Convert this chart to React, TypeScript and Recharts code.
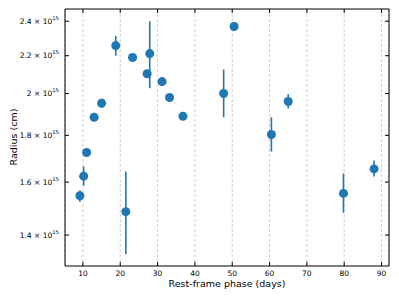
import React from 'react';
import {
  ScatterChart,
  Scatter,
  XAxis,
  YAxis,
  ZAxis,
  CartesianGrid,
  ErrorBar,
  Label,
} from 'recharts';

// rest-frame phase in days
const phase = [9.2, 10.2, 11.0, 13.0, 15.0, 18.8, 21.5, 23.3, 27.2, 27.9, 31.2, 33.2, 36.8, 47.7, 50.5, 60.5, 65.0, 79.8, 88.0];
// radius, in units of 1e15 cm
const radius = [1.546, 1.624, 1.724, 1.884, 1.952, 2.257, 1.485, 2.19, 2.102, 2.212, 2.061, 1.98, 1.889, 2.0, 2.368, 1.804, 1.96, 1.555, 1.654];
const errLow = [0.023, 0.038, 0.015, 0.012, 0.021, 0.057, 0.15, 0, 0, 0.185, 0, 0, 0, 0.116, 0.008, 0.076, 0.034, 0.074, 0.031];
const errHigh = [0.02, 0.04, 0.015, 0.012, 0.022, 0.055, 0.158, 0, 0, 0.188, 0, 0, 0, 0.125, 0.008, 0.08, 0.037, 0.08, 0.035];

const xTicks = [10, 20, 30, 40, 50, 60, 70, 80, 90];
const yTicks = [1.4, 1.6, 1.8, 2.0, 2.2, 2.4];

const E = 1e15;
const data = phase.map((t, i) => ({
  t,
  r: radius[i] * E,
  err: [errLow[i] * E, errHigh[i] * E],
}));

const FONT = '"DejaVu Sans", sans-serif';
const BLUE = '#1f77b4';
const TICK = 4;
const X_DOMAIN = [5.2, 92];
const Y_DOMAIN = [1.295e15, 2.475e15];

const BottomTick = (props: any) => {
  const { x, y, payload } = props;
  return (
    <g>
      <line x1={x} y1={y} x2={x} y2={y - TICK} stroke="#000" strokeWidth={1} />
      <text x={x} y={y + 10} textAnchor="middle" fontSize={7.5} fontFamily={FONT} fill="#000">
        {payload.value}
      </text>
    </g>
  );
};

const TopTick = (props: any) => {
  const { x, y } = props;
  return <line x1={x} y1={y} x2={x} y2={y + TICK} stroke="#000" strokeWidth={1} />;
};

const LeftTick = (props: any) => {
  const { x, y, payload } = props;
  const m = payload.value / E;
  const txt = Math.abs(m - 2) < 1e-9 ? '2' : m.toFixed(1);
  return (
    <g>
      <line x1={x} y1={y} x2={x + TICK} y2={y} stroke="#000" strokeWidth={1} />
      <text x={x - 6} y={y + 2.5} textAnchor="end" fontSize={7.5} fontFamily={FONT} fill="#000">
        {txt} × 10
        <tspan dy={-4} fontSize={5.3}>15</tspan>
      </text>
    </g>
  );
};

const RightTick = (props: any) => {
  const { x, y } = props;
  return <line x1={x} y1={y} x2={x - TICK} y2={y} stroke="#000" strokeWidth={1} />;
};

export default function App() {
  return (
    <div style={{ position: 'absolute', left: 0, top: 0, background: '#fff' }}>
      <ScatterChart width={399} height={299} margin={{ top: 8, right: 9, left: 0, bottom: 0 }}>
        <CartesianGrid xAxisId="b" yAxisId="l" horizontal={false} stroke="#d0d0d0" strokeDasharray="3 2" />
        <XAxis
          xAxisId="b"
          dataKey="t"
          type="number"
          domain={X_DOMAIN}
          ticks={xTicks}
          interval={0}
          height={33}
          tickSize={0}
          tickMargin={0}
          tickLine={false}
          axisLine={{ stroke: '#000', strokeWidth: 1 }}
          tick={<BottomTick />}
          allowDataOverflow
        >
          <Label
            content={() => (
              <text x={227} y={287} textAnchor="middle" fontSize={9.5} fontFamily={FONT} fill="#000">
                Rest-frame phase (days)
              </text>
            )}
          />
        </XAxis>
        <XAxis
          xAxisId="t"
          orientation="top"
          dataKey="t"
          type="number"
          domain={X_DOMAIN}
          ticks={xTicks}
          interval={0}
          height={1}
          tickSize={0}
          tickMargin={0}
          tickLine={false}
          axisLine={{ stroke: '#000', strokeWidth: 1 }}
          tick={<TopTick />}
          allowDataOverflow
        />
        <YAxis
          yAxisId="l"
          dataKey="r"
          type="number"
          scale="log"
          domain={Y_DOMAIN}
          ticks={yTicks.map((v) => v * E)}
          interval={0}
          width={65}
          tickSize={0}
          tickMargin={0}
          tickLine={false}
          axisLine={{ stroke: '#000', strokeWidth: 1 }}
          tick={<LeftTick />}
          allowDataOverflow
        >
          <Label
            content={() => (
              <text
                x={13}
                y={137}
                transform="rotate(-90 13 137)"
                textAnchor="middle"
                dominantBaseline="central"
                fontSize={9.5}
                fontFamily={FONT}
                fill="#000"
              >
                Radius (cm)
              </text>
            )}
          />
        </YAxis>
        <YAxis
          yAxisId="r"
          orientation="right"
          dataKey="r"
          type="number"
          scale="log"
          domain={Y_DOMAIN}
          ticks={yTicks.map((v) => v * E)}
          interval={0}
          width={1}
          tickSize={0}
          tickMargin={0}
          tickLine={false}
          axisLine={{ stroke: '#000', strokeWidth: 1 }}
          tick={<RightTick />}
          allowDataOverflow
        />
        <ZAxis range={[36, 36]} />
        <Scatter data={data} xAxisId="b" yAxisId="l" fill={BLUE} isAnimationActive={false}>
          <ErrorBar dataKey="err" direction="y" width={0} stroke={BLUE} strokeWidth={1.6} />
        </Scatter>
      </ScatterChart>
    </div>
  );
}
